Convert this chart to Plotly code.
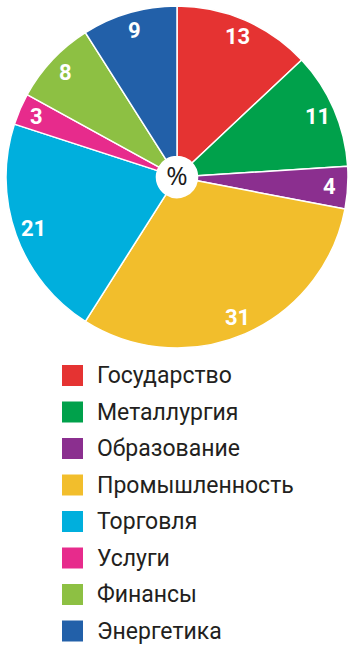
import math
import plotly.graph_objects as go

categories = ["Государство", "Металлургия", "Образование", "Промышленность",
              "Торговля", "Услуги", "Финансы", "Энергетика"]
values = [13, 11, 4, 31, 21, 3, 8, 9]
colors = ["#E53332", "#00A14B", "#8B2F8F", "#F2BE2C",
          "#00AFDD", "#E72B8C", "#8DC043", "#2260A9"]
center_label = "%"

W, H = 354, 650
pie_left, pie_right, pie_top, pie_bottom = 6, 348, 6, 348
cx_px = (pie_left + pie_right) / 2
cy_px = (pie_top + pie_bottom) / 2
radius_px = (pie_right - pie_left) / 2
label_r = 0.895 * radius_px

dom_x = [pie_left / W, pie_right / W]
dom_y = [1 - pie_bottom / H, 1 - pie_top / H]

fig = go.Figure()

fig.add_trace(go.Pie(
    labels=categories, values=values, sort=False, direction="clockwise",
    rotation=0, hole=0.12,
    marker=dict(colors=colors, line=dict(color="white", width=1.5)),
    textinfo="none", hoverinfo="skip", showlegend=False,
    domain=dict(x=dom_x, y=dom_y),
    title=dict(text=center_label, position="middle center",
               font=dict(family="Open Sans", size=31, color="#1a1a1a")),
))

# value labels near the rim, at each slice's mid angle (clockwise from 12 o'clock)
total = sum(values)
cum = 0
for v in values:
    mid = (cum + v / 2) / total * 2 * math.pi
    cum += v
    x_px = cx_px + label_r * math.sin(mid)
    y_px = cy_px - label_r * math.cos(mid)
    fig.add_annotation(text=str(v), xref="paper", yref="paper",
                       x=x_px / W, y=1 - y_px / H, xanchor="center", yanchor="middle",
                       showarrow=False,
                       font=dict(family="Roboto", size=22, color="white", weight="bold"))

# legend built from the category list
leg_top, leg_step = 375.5, 36.5
sq_x0, sq_x1, sq_half = 62, 83, 10.5
text_x = 95
for i, (name, col) in enumerate(zip(categories, colors)):
    yc = leg_top + i * leg_step
    fig.add_shape(type="rect", xref="paper", yref="paper",
                  x0=sq_x0 / W, x1=sq_x1 / W,
                  y0=1 - (yc + sq_half) / H, y1=1 - (yc - sq_half) / H,
                  fillcolor=col, line=dict(width=0))
    fig.add_annotation(text=name, xref="paper", yref="paper",
                       x=text_x / W, y=1 - yc / H, xanchor="left", yanchor="middle",
                       showarrow=False,
                       font=dict(family="Roboto", size=23, color="#231F20"))

fig.update_layout(
    width=W, height=H, margin=dict(l=0, r=0, t=0, b=0),
    paper_bgcolor="white", plot_bgcolor="white",
    showlegend=False,
)

fig.write_html("out.html")
